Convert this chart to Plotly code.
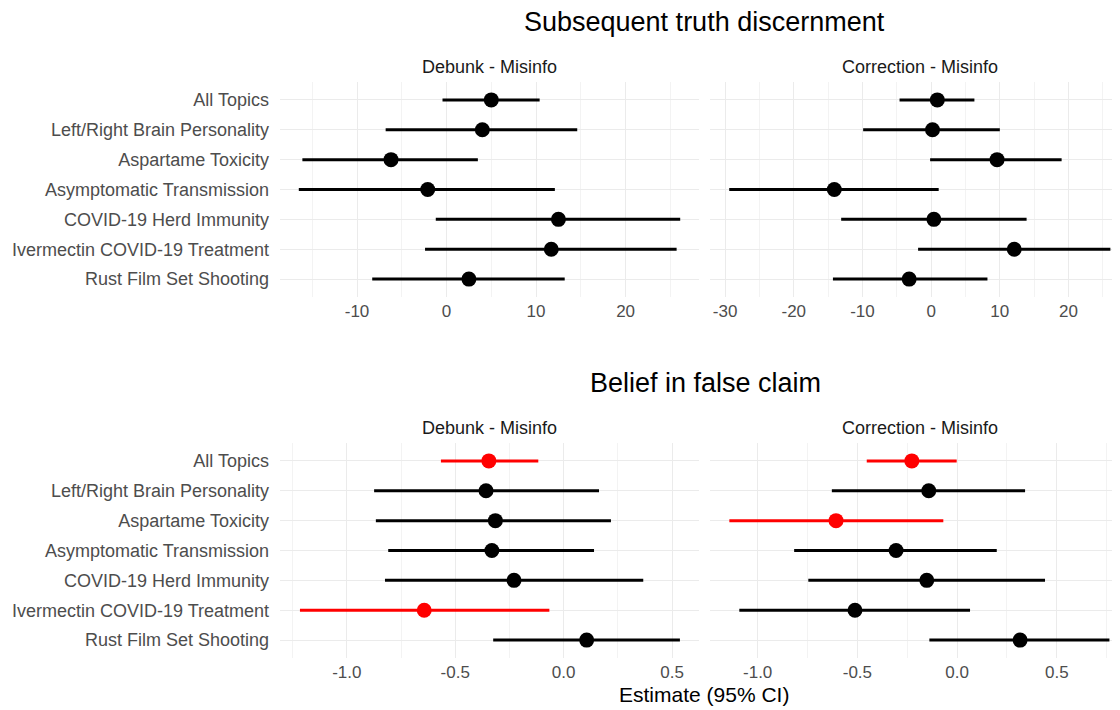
import plotly.graph_objects as go

topics = ["All Topics", "Left/Right Brain Personality", "Aspartame Toxicity",
          "Asymptomatic Transmission", "COVID-19 Herd Immunity",
          "Ivermectin COVID-19 Treatment", "Rust Film Set Shooting"]

# Subsequent truth discernment
td_debunk_est = [5.0, 4.0, -6.2, -2.1, 12.5, 11.7, 2.5]
td_debunk_lo = [-0.45, -6.8, -16.1, -16.5, -1.2, -2.4, -8.3]
td_debunk_hi = [10.4, 14.6, 3.5, 12.1, 26.1, 25.7, 13.2]
td_debunk_sig = [False, False, False, False, False, False, False]

td_corr_est = [0.9, 0.2, 9.6, -14.1, 0.4, 12.1, -3.2]
td_corr_lo = [-4.6, -9.9, -0.15, -29.4, -13.1, -1.9, -14.3]
td_corr_hi = [6.3, 10.0, 19.0, 1.1, 13.9, 26.1, 8.2]
td_corr_sig = [False, False, False, False, False, False, False]

# Belief in false claim
bf_debunk_est = [-0.345, -0.358, -0.315, -0.331, -0.229, -0.643, 0.106]
bf_debunk_lo = [-0.566, -0.874, -0.866, -0.809, -0.824, -1.216, -0.325]
bf_debunk_hi = [-0.117, 0.163, 0.218, 0.140, 0.367, -0.066, 0.536]
bf_debunk_sig = [True, False, False, False, False, True, False]

bf_corr_est = [-0.227, -0.142, -0.607, -0.306, -0.152, -0.512, 0.316]
bf_corr_lo = [-0.453, -0.628, -1.142, -0.817, -0.746, -1.092, -0.139]
bf_corr_hi = [-0.002, 0.341, -0.069, 0.199, 0.441, 0.065, 0.764]
bf_corr_sig = [True, False, True, False, False, False, False]

td_ticks = [-30, -20, -10, 0, 10, 20]
bf_ticks = [-1.0, -0.5, 0.0, 0.5]
td_tick_labels = ["-30", "-20", "-10", "0", "10", "20"]
bf_tick_labels = ["-1.0", "-0.5", "0.0", "0.5"]

facet_labels = ["Debunk - Misinfo", "Correction - Misinfo"]
titles = ["Subsequent truth discernment", "Belief in false claim"]

W, H = 1120, 710
OFF = 8  # page body margin
FONT = "Liberation Sans, Arial, sans-serif"

def px_x(p):
    return (p - OFF) / W

def px_y(p):
    return 1 - (p - OFF) / H

panels = [
    (td_debunk_est, td_debunk_lo, td_debunk_hi, td_debunk_sig, (280, 699), (82, 297), [-18.6, 28.2], td_ticks, td_tick_labels, 5, True),
    (td_corr_est, td_corr_lo, td_corr_hi, td_corr_sig, (710, 1120), (82, 297), [-32.2, 27.5], td_ticks, td_tick_labels, 5, False),
    (bf_debunk_est, bf_debunk_lo, bf_debunk_hi, bf_debunk_sig, (280, 699), (443, 658), [-1.308, 0.624], bf_ticks, bf_tick_labels, 0.25, True),
    (bf_corr_est, bf_corr_lo, bf_corr_hi, bf_corr_sig, (710, 1120), (443, 658), [-1.239, 0.817], bf_ticks, bf_tick_labels, 0.25, False),
]

fig = go.Figure()
layout = {}
for i, (est, lo, hi, sig, xd, yd, rng, tv, tt, mdt, showy) in enumerate(panels):
    n = i + 1
    xa = "x" if n == 1 else f"x{n}"
    ya = "y" if n == 1 else f"y{n}"
    # zero reference line
    fig.add_trace(go.Scatter(
        x=[0, 0], y=[-0.6, 6.6], mode="lines",
        line=dict(color="#ABABAB", width=1.2, dash="dash"),
        xaxis=xa, yaxis=ya, showlegend=False, hoverinfo="skip",
    ))
    for flag, col in [(False, "black"), (True, "red")]:
        idx = [k for k in range(len(topics)) if sig[k] == flag]
        if not idx:
            continue
        fig.add_trace(go.Scatter(
            x=[est[k] for k in idx],
            y=[topics[k] for k in idx],
            mode="markers",
            marker=dict(color=col, size=15),
            error_x=dict(type="data", symmetric=False,
                         array=[hi[k] - est[k] for k in idx],
                         arrayminus=[est[k] - lo[k] for k in idx],
                         color=col, thickness=3, width=0),
            xaxis=xa, yaxis=ya, showlegend=False, cliponaxis=False,
        ))
    xkey = "xaxis" if n == 1 else f"xaxis{n}"
    ykey = "yaxis" if n == 1 else f"yaxis{n}"
    layout[xkey] = dict(
        domain=[px_x(xd[0]), px_x(xd[1])], range=rng, anchor=ya,
        tickmode="array", tickvals=tv, ticktext=tt,
        showgrid=True, gridcolor="#EBEBEB", gridwidth=1.1,
        minor=dict(dtick=mdt, tick0=0, showgrid=True, gridcolor="#F3F3F3", gridwidth=0.6),
        zeroline=False, showline=False, ticks="",
        tickfont=dict(family=FONT, size=17, color="#4D4D4D"),
        ticklabelstandoff=2,
    )
    layout[ykey] = dict(
        domain=[px_y(yd[1]), px_y(yd[0])], anchor=xa,
        type="category", categoryorder="array", categoryarray=topics,
        range=[6.6, -0.6], showgrid=True, gridcolor="#EBEBEB", gridwidth=1.1,
        zeroline=False, showline=False, ticks="",
        showticklabels=showy,
        tickfont=dict(family=FONT, size=18, color="#4D4D4D"),
        ticklabelstandoff=10,
    )

annotations = []
for i, (est, lo, hi, sig, xd, yd, rng, tv, tt, mdt, showy) in enumerate(panels):
    annotations.append(dict(
        text=facet_labels[i % 2], x=px_x(xd[0] + 209.5), y=px_y(yd[0] - 15),
        xref="paper", yref="paper", showarrow=False, xanchor="center", yanchor="middle",
        font=dict(family=FONT, size=18, color="#1A1A1A"),
    ))
annotations.append(dict(text=titles[0], x=px_x(704), y=px_y(22), xref="paper", yref="paper",
                        showarrow=False, xanchor="center", yanchor="middle",
                        font=dict(family=FONT, size=27, color="black")))
annotations.append(dict(text=titles[1], x=px_x(705), y=px_y(383), xref="paper", yref="paper",
                        showarrow=False, xanchor="center", yanchor="middle",
                        font=dict(family=FONT, size=27, color="black")))
annotations.append(dict(text="Estimate (95% CI)", x=px_x(704), y=px_y(694), xref="paper", yref="paper",
                        showarrow=False, xanchor="center", yanchor="middle",
                        font=dict(family=FONT, size=21, color="black")))

fig.update_layout(
    width=W, height=H, margin=dict(l=0, r=0, t=0, b=0),
    plot_bgcolor="white", paper_bgcolor="white",
    annotations=annotations, **layout,
)

fig.write_html("out.html")
